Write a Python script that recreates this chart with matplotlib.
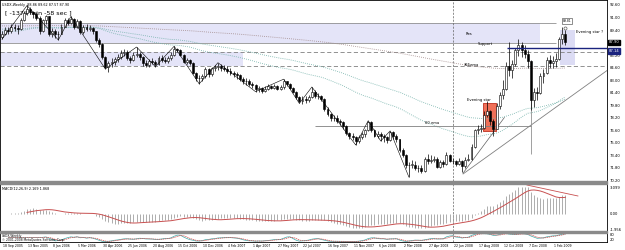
import numpy as np
import matplotlib.pyplot as plt
import matplotlib.transforms as mtransforms

# ---------------- weekly USDX data (Sep 2005 - Mar 2009) ----------------
open0 = 88.6
close = [89.0, 89.5, 89.3, 89.9, 89.7, 89.6, 90.8, 91.6, 92.1, 91.8,
         91.5, 91.0, 89.3, 90.7, 91.2, 89.0, 89.4, 88.9, 89.0, 89.9,
         90.7, 90.4, 90.9, 89.8, 90.6, 89.2, 89.9, 89.6, 89.7, 89.3,
         88.2, 87.7, 86.0, 84.8, 85.2, 85.4, 85.8, 86.0, 86.5, 86.7,
         85.9, 85.6, 86.3, 86.4, 86.0, 85.2, 85.0, 85.5, 85.4, 85.1,
         85.9, 85.7, 85.5, 85.9, 86.3, 87.0, 86.9, 86.3, 85.4, 85.6,
         85.3, 84.0, 83.3, 83.4, 83.6, 84.5, 83.8, 84.6, 84.7, 84.9,
         84.6, 84.5, 84.3, 84.0, 83.8, 83.7, 83.2, 82.9, 83.0, 82.6,
         82.4, 81.9, 82.1, 81.7, 82.0, 82.3, 82.1, 82.3, 82.0, 82.2,
         82.9, 82.6, 82.1, 81.6, 80.9, 80.4, 80.7, 80.5, 80.9, 81.6,
         81.0, 81.0, 80.7, 79.4, 78.8, 78.3, 78.2, 77.9, 77.7, 77.2,
         76.3, 75.9, 75.8, 75.3, 75.8, 76.2, 76.7, 77.7, 76.7, 76.0,
         76.2, 76.0, 75.8, 75.4, 76.4, 75.9, 75.5, 74.2, 73.5, 72.2,
         72.3, 72.3, 71.9, 71.8, 71.5, 73.0, 72.8, 72.9, 73.0, 72.0,
         72.6, 72.4, 73.5, 72.8, 72.7, 72.4, 72.7, 72.1, 72.9, 73.0,
         74.6, 76.7, 76.8, 77.0, 78.6, 79.1, 77.8, 76.9, 79.8, 81.2,
         81.9, 84.9, 84.4, 85.1, 86.9, 87.5, 86.9, 86.4, 85.5, 80.5,
         81.5, 81.4, 83.6, 84.0, 85.7, 85.2, 85.5, 85.8, 88.3, 88.9,
         87.9]
high = [89.4, 89.8, 89.9, 90.3, 90.2, 90.1, 91.0, 91.9, 92.6, 92.4,
        91.9, 91.8, 91.2, 90.9, 91.4, 91.3, 89.7, 89.6, 89.3, 90.2,
        91.0, 91.0, 91.2, 91.0, 90.9, 90.7, 90.1, 90.3, 90.1, 89.9,
        89.4, 88.4, 87.8, 86.1, 85.5, 85.9, 86.0, 86.4, 86.9, 87.1,
        86.9, 86.2, 86.6, 87.3, 86.7, 86.1, 85.6, 85.8, 85.9, 85.6,
        86.1, 86.3, 86.0, 86.1, 86.6, 87.4, 87.2, 87.0, 86.4, 85.9,
        85.8, 85.4, 84.1, 83.7, 83.9, 84.8, 84.6, 84.8, 85.0, 85.3,
        85.1, 85.0, 84.9, 84.6, 84.2, 84.1, 83.9, 83.5, 83.3, 83.2,
        82.8, 82.6, 82.3, 82.2, 82.3, 82.6, 82.5, 82.6, 82.5, 82.4,
        83.2, 83.0, 82.7, 82.2, 81.7, 81.0, 81.0, 81.1, 81.2, 82.2,
        81.8, 81.4, 81.2, 80.8, 79.6, 78.9, 78.6, 78.6, 78.1, 77.9,
        77.3, 76.5, 76.3, 76.0, 76.1, 76.5, 76.9, 77.9, 77.8, 76.9,
        76.6, 76.5, 76.2, 76.0, 76.6, 76.6, 76.2, 75.6, 74.4, 73.6,
        72.6, 72.9, 72.8, 72.2, 72.2, 73.3, 73.6, 73.5, 73.4, 73.2,
        72.9, 72.9, 73.9, 73.6, 73.1, 72.9, 73.1, 72.9, 73.2, 73.6,
        74.9, 76.9, 77.4, 77.5, 79.1, 80.4, 79.3, 78.1, 80.2, 81.6,
        83.1, 85.4, 87.9, 85.6, 87.2, 88.3, 87.9, 87.6, 86.9, 85.6,
        82.1, 82.2, 84.0, 84.5, 86.0, 86.3, 86.1, 86.5, 88.6, 89.8,
        89.5]
low = [88.3, 88.8, 88.9, 89.1, 89.3, 89.0, 89.5, 90.6, 91.4, 91.5,
       91.0, 90.7, 89.0, 89.2, 90.3, 88.7, 88.6, 88.5, 88.2, 88.9,
       89.8, 90.1, 90.2, 89.6, 89.7, 89.0, 88.9, 89.4, 89.3, 89.0,
       87.9, 87.3, 85.8, 84.5, 84.1, 84.8, 85.0, 85.4, 85.8, 86.1,
       85.6, 85.3, 85.5, 86.0, 85.7, 84.9, 84.7, 84.8, 85.1, 84.8,
       85.0, 85.4, 85.2, 85.2, 85.7, 86.1, 86.6, 86.1, 85.2, 85.1,
       85.0, 83.8, 82.9, 82.6, 83.0, 83.4, 83.5, 83.6, 84.2, 84.4,
       84.3, 84.2, 84.0, 83.7, 83.5, 83.2, 82.9, 82.6, 82.5, 82.3,
       82.1, 81.6, 81.5, 81.4, 81.5, 81.8, 81.9, 81.9, 81.8, 81.8,
       82.0, 82.3, 81.9, 81.4, 80.7, 80.1, 80.0, 80.2, 80.3, 80.8,
       80.8, 80.7, 80.4, 79.1, 78.5, 77.9, 77.8, 77.6, 77.3, 76.9,
       76.1, 75.5, 75.4, 74.8, 75.0, 75.6, 75.8, 76.6, 76.5, 75.8,
       75.7, 75.3, 75.2, 75.1, 75.3, 75.6, 75.2, 73.9, 73.2, 71.9,
       70.7, 71.9, 71.6, 71.4, 71.2, 71.4, 72.4, 72.5, 72.6, 71.8,
       71.9, 72.0, 72.3, 72.6, 72.4, 72.1, 72.2, 71.3, 71.9, 72.7,
       72.9, 74.4, 76.2, 76.4, 76.9, 78.4, 77.4, 75.9, 76.8, 79.4,
       80.7, 81.8, 83.6, 83.4, 84.9, 86.1, 86.0, 85.9, 84.6, 79.3,
       79.6, 80.6, 81.3, 82.7, 83.9, 84.6, 84.6, 84.8, 85.7, 87.7,
       87.5]
date_labels = ['18 Sep 2005', '13 Nov 2005', '8 Jan 2006', '5 Mar 2006',
               '30 Apr 2006', '25 Jun 2006', '20 Aug 2006', '15 Oct 2006',
               '10 Dec 2006', '4 Feb 2007', '1 Apr 2007', '27 May 2007',
               '22 Jul 2007', '16 Sep 2007', '11 Nov 2007', '6 Jan 2008',
               '2 Mar 2008', '27 Apr 2008', '22 Jun 2008', '17 Aug 2008',
               '12 Oct 2008', '7 Dec 2008', '1 Feb 2009']
price_ticks = [92.60, 91.00, 89.40, 86.20, 84.60, 83.00, 81.40, 79.80,
               78.20, 76.60, 75.00, 73.40, 71.80, 70.20]

# zigzag pivots (bar index, 'H'/'L')
zz_bars = [0, 8, 18, 22, 33, 43, 49, 55, 63, 69, 81, 90, 95, 99, 113, 117, 121, 124, 130]
zz_kind = ['L', 'H', 'L', 'H', 'L', 'H', 'L', 'H', 'L', 'H', 'L', 'H', 'L', 'H', 'L', 'H', 'L', 'H', 'L']

close = np.array(close)
high = np.array(high)
low = np.array(low)
opn = np.concatenate([[open0], close[:-1]])
n = len(close)
idx = np.arange(n)


def ema(x, period, seed):
    a = 2.0 / (period + 1)
    v = seed
    out = []
    for p in x:
        v = v + a * (p - v)
        out.append(v)
    return np.array(out)


def sma(x, period):
    out = np.full(len(x), np.nan)
    for i in range(period - 1, len(x)):
        out[i] = np.mean(x[i - period + 1:i + 1])
    return out


ema365 = ema(close, 365, 90.0)
ema100 = ema(close, 100, 89.6)
ema60 = ema(close, 60, 89.3)
macd = ema(close, 12, close[0]) - ema(close, 26, close[0])
signal = sma(macd, 9)

# stochastic 14,3,3
kraw = np.full(n, np.nan)
for i in range(13, n):
    hh = high[i - 13:i + 1].max()
    ll = low[i - 13:i + 1].min()
    kraw[i] = (close[i] - ll) / (hh - ll) * 100
stk = sma(np.nan_to_num(kraw, nan=50), 3)
std = sma(np.nan_to_num(stk, nan=50), 3)

# ---------------- figure ----------------
W, H = 625, 250
fig = plt.figure(figsize=(6.25, 2.5), dpi=100)
fig.patch.set_facecolor('white')
pw = 607 / W
ax = fig.add_axes([0.0, (H - 181) / H, pw, 181 / H])
ax2 = fig.add_axes([0.0, (H - 231) / H, pw, 47 / H])
ax3 = fig.add_axes([0.0, (H - 242) / H, pw, 9 / H])

xl = (-0.64, (607 - 2) / 3.13)
for a in (ax, ax2, ax3):
    a.set_xlim(*xl)
    a.set_xticks([])
    a.set_yticks([])
    for s in a.spines.values():
        s.set_linewidth(0.6)
        s.set_color('black')

ax.set_ylim(70.2, 93.3)
fs = 2.7

# zones
ax.fill_between([xl[0], 172], 87.78, 90.35, color='#e4e4f8', lw=0, zorder=0)
ax.hlines([87.78, 90.35], xl[0], 177, color='#909090', lw=0.6, zorder=1)
ax.fill_between([xl[0], 77], 84.9, 86.63, color='#e4e4f8', lw=0, zorder=0)
ax.hlines([84.9, 86.63], xl[0], xl[1], color='#808080', lw=0.6,
          linestyles=(0, (5, 3)), zorder=1)
ax.fill_between([178.3, 183], 84.96, 89.45, color='#dcdcf4', lw=0, zorder=0)
ax.fill_between([153.7, 157.7], 76.6, 80.1, color='#f07058', lw=0.6,
                edgecolor='#c03020', zorder=1)

# moving averages
ax.plot(idx, ema365, color='#a08888', lw=0.6, ls=(0, (1, 1.5)), zorder=2)
ax.plot(idx, ema100, color='#70b0a8', lw=0.6, ls=(0, (1, 1.5)), zorder=2)
ax.plot(idx, ema60, color='#70b0a8', lw=0.6, ls=(0, (1, 1.5)), zorder=2)

# vertical separator
for a in (ax, ax2, ax3):
    a.axvline(144, color='#606060', lw=0.5, ls=(0, (3, 2)), zorder=1)

# candles
up = close >= opn
ax.vlines(idx, low, high, color='black', lw=0.5, zorder=3)
body_lo = np.minimum(opn, close)
body_h = np.maximum(np.abs(close - opn), 0.06)
ax.bar(idx[up], body_h[up], bottom=body_lo[up], width=0.62, color='white',
       edgecolor='black', lw=0.4, zorder=4)
ax.bar(idx[~up], body_h[~up], bottom=body_lo[~up], width=0.62, color='black',
       edgecolor='black', lw=0.4, zorder=4)

# zigzag
zz_p = [high[b] if k == 'H' else low[b] for b, k in zip(zz_bars, zz_kind)]
ax.plot(zz_bars, zz_p, color='black', lw=0.4, zorder=5)

# drawn lines
ax.hlines(77.26, 100, 169, color='#808080', lw=0.6, zorder=2)
ax.hlines(87.14, 161.3, xl[1], color='#1a237e', lw=1.0, zorder=5)
ax.plot([147.3, 193.3], [71.1, 84.3], color='#808080', lw=0.6, zorder=2)
ax.plot([147.3, 160.5], [71.2, 78.3], color='#606060', lw=0.5, zorder=2)
ax.vlines(169, 73.7, 81.5, color='#909090', lw=0.6, zorder=2)
ax.plot([180], [89.75], marker='o', ms=2.2, mfc='white', mec='#606060', mew=0.5, zorder=6)

# labels on chart
ax.text(148.2, 89.0, 'Res', fontsize=fs, va='center')
ax.text(152, 87.4, 'Support', fontsize=fs, va='bottom')
ax.text(147.5, 84.95, '365ema', fontsize=fs, va='center', zorder=6)
ax.text(135, 77.4, '60 ema', fontsize=fs, va='bottom')
ax.text(148.6, 80.25, 'Evening star', fontsize=fs, va='bottom')
ax.text(183.5, 89.2, 'Evening star ?', fontsize=fs, va='center')
ax.text(180.5, 90.6, '89.81', fontsize=2.2, ha='center', va='center',
        bbox=dict(boxstyle='square,pad=0.25', fc='white', ec='#606060', lw=0.5))
ax.text(0.003, 0.985, 'USDX,Weekly  88.86 89.62 87.57 87.90', fontsize=2.4,
        transform=ax.transAxes, va='top')
ax.text(0.008, 0.945, '[ -1374 min -58 sec ]', fontsize=4.6,
        transform=ax.transAxes, va='top')

# price axis labels
ytr = ax.get_yaxis_transform()
for p in price_ticks:
    ax.text(1.005, p, '%.2f' % p, fontsize=fs, va='center', transform=ytr, clip_on=False)
ax.text(1.003, 87.90, '87.90', fontsize=fs, va='center', color='white', transform=ytr,
        bbox=dict(boxstyle='square,pad=0.2', fc='black', ec='black'))
ax.text(1.003, 86.80, '87.14', fontsize=fs, va='center', color='white', transform=ytr,
        bbox=dict(boxstyle='square,pad=0.2', fc='#1a237e', ec='#1a237e'))

# MACD panel
ax2.set_ylim(-2.03, 3.58)
ax2.vlines(idx, 0, macd, color='#a0a0a0', lw=0.6)
ax2.plot(idx, signal, color='#c85050', lw=0.7)
ax2.plot([167.7, 184], [3.46, 2.15], color='#c85050', lw=0.6)
ax2.text(0.003, 0.93, 'MACD(12,26,9) 2.169 1.868', fontsize=2.4,
         transform=ax2.transAxes, va='top')
ytr2 = ax2.get_yaxis_transform()
for v, t in [(3.099, '3.099'), (0.0, '0.00'), (-1.956, '-1.956')]:
    ax2.text(1.005, v, t, fontsize=fs, va='center', transform=ytr2)

# stochastic panel
ax3.set_ylim(0, 100)
ax3.plot(idx, stk, color='#40a8a8', lw=0.5)
ax3.plot(idx, std, color='#d04848', lw=0.5, ls=(0, (2, 1)))
ax3.text(0.003, 0.92, 'USDX,Weekly', fontsize=2.2, transform=ax3.transAxes, va='top')
ax3.text(0.003, 0.45, '\u00a9 2001-2008 MetaQuotes Software Corp.', fontsize=2.2,
         transform=ax3.transAxes, va='top')
ytr3 = ax3.get_yaxis_transform()
ax3.text(1.005, 80, '80', fontsize=fs, va='center', transform=ytr3)
ax3.text(1.005, 20, '20', fontsize=fs, va='center', transform=ytr3)

# window separators
for y0, hh in [(181, 3), (231, 2)]:
    fig.patches.append(plt.Rectangle((0, (H - y0 - hh) / H), pw, hh / H,
                                     transform=fig.transFigure, color='#8a8a8a', zorder=10))

# date labels
xt = mtransforms.blended_transform_factory(ax3.transData, fig.transFigure)
for k, lbl in enumerate(date_labels):
    ax3.text(8 * k + 0.3, 1 - 246 / H, lbl, fontsize=2.25, va='center', ha='left',
             transform=xt, clip_on=False)

fig.savefig('out.png', dpi=100)
